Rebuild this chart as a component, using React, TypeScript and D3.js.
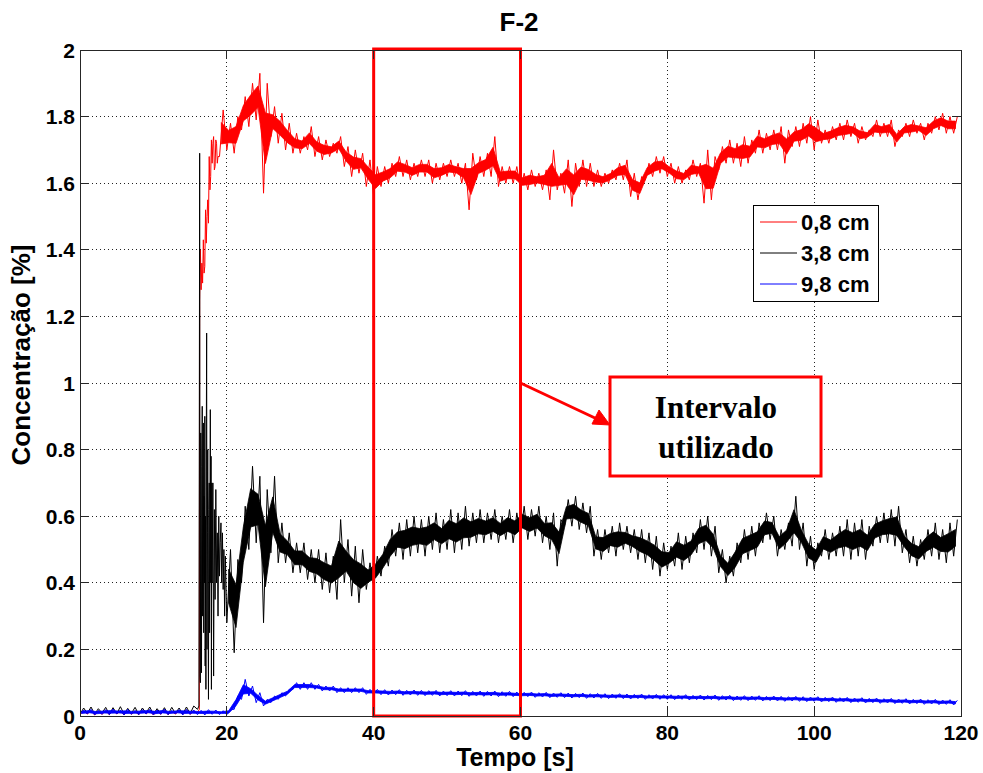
import React from "react";
import * as d3 from "d3";

const TITLE = "F-2";
const X_LABEL = "Tempo [s]";
const Y_LABEL = "Concentração [%]";
const X_TICKS = [0, 20, 40, 60, 80, 100, 120];
const Y_TICKS = [0, 0.2, 0.4, 0.6, 0.8, 1, 1.2, 1.4, 1.6, 1.8, 2];
const SERIES_NAMES = ["0,8 cm", "3,8 cm", "9,8 cm"];
const SERIES_COLORS = ["#ff0000", "#000000", "#0000ff"];
const INTERVAL = [40, 60];
const NOTE_LINES = ["Intervalo", "utilizado"];

// per-second bins: low and high reading of each noisy trace (t = 0..119 s)
const RED_LO = [
  .004, .006, .003, .005, .004, .006, .003, .005, .004, .006, .003, .005, .004, .006, .004, .005,
  .01, 1.28, 1.62, 1.68, 1.70, 1.69, 1.76, 1.77, 1.79, 1.57, 1.74, 1.72, 1.70, 1.69,
  1.69, 1.70, 1.68, 1.67, 1.68, 1.69, 1.65, 1.62, 1.63, 1.59,
  1.56, 1.59, 1.60, 1.62, 1.62, 1.61, 1.62, 1.62, 1.60, 1.61,
  1.62, 1.62, 1.60, 1.52, 1.61, 1.62, 1.62, 1.59, 1.60, 1.60,
  1.58, 1.58, 1.59, 1.58, 1.55, 1.58, 1.57, 1.53, 1.59, 1.59,
  1.59, 1.59, 1.60, 1.61, 1.61, 1.56, 1.55, 1.61, 1.62, 1.63,
  1.62, 1.60, 1.60, 1.61, 1.62, 1.54, 1.55, 1.64, 1.66, 1.66,
  1.65, 1.66, 1.69, 1.69, 1.70, 1.70, 1.66, 1.71, 1.71, 1.72,
  1.70, 1.72, 1.72, 1.73, 1.73, 1.74, 1.72, 1.73, 1.74, 1.74,
  1.74, 1.71, 1.74, 1.74, 1.75, 1.73, 1.75, 1.76, 1.75, 1.75,
];
const RED_HI = [
  .014, .016, .013, .015, .017, .014, .015, .013, .016, .015, .014, .017, .013, .015, .016, .014,
  1.30, 1.52, 1.74, 1.82, 1.78, 1.80, 1.86, 1.90, 1.93, 1.90, 1.83, 1.81, 1.78, 1.75,
  1.74, 1.77, 1.74, 1.73, 1.72, 1.74, 1.71, 1.70, 1.69, 1.67,
  1.65, 1.65, 1.66, 1.68, 1.67, 1.66, 1.67, 1.67, 1.66, 1.66,
  1.67, 1.66, 1.66, 1.69, 1.68, 1.69, 1.74, 1.65, 1.65, 1.65,
  1.63, 1.64, 1.63, 1.64, 1.70, 1.63, 1.67, 1.66, 1.67, 1.66,
  1.64, 1.63, 1.64, 1.66, 1.67, 1.63, 1.62, 1.66, 1.68, 1.68,
  1.66, 1.65, 1.64, 1.67, 1.66, 1.70, 1.68, 1.71, 1.73, 1.72,
  1.74, 1.73, 1.76, 1.75, 1.76, 1.77, 1.76, 1.77, 1.78, 1.80,
  1.79, 1.76, 1.77, 1.78, 1.79, 1.78, 1.77, 1.76, 1.79, 1.78,
  1.79, 1.76, 1.78, 1.79, 1.78, 1.78, 1.80, 1.81, 1.80, 1.80,
];
const RED_TRANS_T = [16.0, 16.25, 16.3, 16.4, 16.5, 16.6, 16.7, 16.8, 16.9, 17.0, 17.1, 17.2, 17.3, 17.4, 17.5, 17.6, 17.7, 17.8, 17.9, 18.0, 18.1, 18.2, 18.3, 18.4, 18.5, 18.6, 18.7, 18.8];
const RED_TRANS_V = [.01, .02, 1.25, 1.40, 1.28, 1.36, 1.30, 1.43, 1.33, 1.35, 1.52, 1.42, 1.50, 1.55, 1.48, 1.68, 1.58, 1.62, 1.73, 1.66, 1.72, 1.74, 1.64, 1.65, 1.73, 1.72, 1.66, 1.68];

const BLACK_LO = [
  .005, .008, .006, .009, .005, .007, .006, .008, .005, .009, .006, .007, .005, .008, .006, .007,
  .02, .06, .10, .35, .28, .19, .40, .50, .52, .28, .49, .46, .46, .43,
  .43, .41, .40, .38, .37, .35, .40, .36, .34, .38,
  .39, .42, .45, .48, .47, .48, .49, .48, .50, .49,
  .50, .49, .50, .51, .52, .52, .53, .52, .53, .52,
  .54, .53, .54, .52, .50, .45, .57, .57, .56, .55,
  .48, .47, .49, .48, .50, .49, .47, .46, .44, .42,
  .44, .45, .44, .46, .49, .50, .48, .43, .40, .42,
  .46, .47, .48, .52, .53, .48, .50, .51, .50, .45,
  .44, .48, .47, .48, .48, .47, .48, .47, .51, .52,
  .52, .51, .49, .46, .45, .47, .48, .47, .46, .48,
];
const BLACK_HI = [
  .024, .027, .022, .026, .025, .028, .023, .026, .024, .027, .022, .025, .026, .024, .027, .03,
  1.69, .95, .92, .60, .50, .47, .63, .75, .72, .68, .72, .58, .55, .52,
  .52, .50, .50, .49, .48, .59, .53, .51, .50, .46,
  .48, .51, .56, .58, .59, .60, .59, .60, .61, .59,
  .62, .61, .63, .61, .62, .61, .62, .60, .62, .61,
  .63, .62, .63, .60, .61, .59, .65, .66, .64, .63,
  .56, .56, .57, .58, .57, .56, .56, .55, .54, .52,
  .51, .55, .54, .55, .59, .60, .57, .50, .48, .52,
  .56, .57, .58, .61, .60, .56, .58, .66, .58, .54,
  .52, .56, .55, .57, .59, .58, .59, .57, .60, .61,
  .62, .63, .56, .54, .53, .56, .58, .56, .58, .59,
];
const BLACK_TRANS_T = [16.0, 16.2, 16.3, 16.35, 16.4, 16.45, 16.5, 16.55, 16.6, 16.65, 16.7, 16.75, 16.8, 16.85, 16.9, 16.95, 17.0, 17.05, 17.1, 17.15, 17.2, 17.25, 17.3, 17.35, 17.4, 17.45, 17.5, 17.55, 17.6, 17.65, 17.7, 17.75, 17.8, 17.85, 17.9, 17.95, 18.0, 18.1, 18.2, 18.3, 18.4, 18.5, 18.6, 18.7, 18.8, 18.9, 19.0, 19.1, 19.2, 19.3, 19.4, 19.5, 19.6, 19.7, 19.8];
const BLACK_TRANS_V = [.02, .03, 1.69, .12, .10, .85, .60, .13, .75, .93, .30, .70, .88, .25, .66, .40, .90, .15, .60, .08, .80, 1.15, .20, .55, .80, .30, .05, .62, .70, .25, .55, .92, .40, .78, .08, .70, .40, .70, .12, .62, .35, .68, .40, .55, .30, .60, .42, .52, .58, .40, .55, .38, .50, .30, .48];

const BLUE_LO = [
  .004, .006, .003, .005, .004, .006, .003, .005, .004, .006, .003, .005, .004, .006, .003, .005,
  .004, .003, .005, .004, .004, .02, .05, .06, .04, .03, .04, .05, .06, .08,
  .08, .08, .08, .075, .075, .07, .07, .07, .07, .065,
  .065, .064, .063, .064, .062, .063, .062, .061, .062, .060,
  .061, .060, .061, .059, .060, .059, .060, .058, .059, .058,
  .057, .058, .056, .057, .055, .056, .055, .054, .055, .053,
  .054, .053, .052, .053, .052, .051, .052, .050, .051, .050,
  .050, .049, .050, .048, .049, .048, .049, .047, .048, .046,
  .047, .046, .047, .045, .046, .045, .044, .045, .044, .043,
  .044, .042, .043, .041, .042, .040, .041, .039, .040, .038,
  .039, .037, .038, .036, .037, .035, .036, .034, .035, .033,
];
const BLUE_HI = [
  .018, .02, .017, .019, .021, .018, .02, .017, .019, .02, .018, .021, .017, .019, .02, .018,
  .017, .019, .018, .016, .02, .06, .11, .09, .07, .05, .06, .07, .08, .10,
  .10, .10, .095, .09, .09, .085, .085, .085, .085, .08,
  .08, .079, .078, .079, .077, .078, .077, .076, .077, .075,
  .076, .075, .076, .074, .075, .074, .075, .073, .074, .072,
  .071, .072, .070, .071, .069, .070, .069, .068, .069, .067,
  .068, .067, .066, .067, .066, .065, .066, .064, .065, .064,
  .064, .063, .064, .062, .063, .062, .063, .061, .062, .060,
  .061, .060, .061, .059, .060, .059, .058, .059, .058, .057,
  .058, .056, .057, .055, .056, .054, .055, .053, .054, .052,
  .053, .051, .052, .050, .051, .049, .050, .048, .049, .047,
];

const W = 983, H = 773;
const M = { left: 80, right: 22, top: 50, bottom: 57 };

type Pt = [number, number];

function buildSeries(lo: number[], hi: number[], tt?: number[], tv?: number[]) {
  const pts: Pt[] = [];
  const t0 = tt ? tt[0] : Infinity;
  const t1 = tt ? tt[tt.length - 1] : -Infinity;
  let insertedTrans = false;
  for (let i = 0; i < lo.length; i++) {
    const a = i, b = i + 0.5;
    if (tt && tv && a >= t0 && b <= t1 + 0.2) {
      if (!insertedTrans) {
        tt.forEach((t, k) => pts.push([t, tv[k]]));
        insertedTrans = true;
      }
      continue;
    }
    pts.push([a, lo[i]]);
    pts.push([b, hi[i]]);
  }
  return pts;
}

// envelope segments (bins outside the transient), as [t, lo, hi]
function buildBand(lo: number[], hi: number[], skipFrom: number, skipTo: number) {
  const segs: [number, number, number][][] = [[]];
  for (let i = 0; i < lo.length; i++) {
    if (i >= skipFrom && i < skipTo) {
      if (segs[segs.length - 1].length) segs.push([]);
      continue;
    }
    segs[segs.length - 1].push([i + 0.25, lo[i], hi[i]]);
  }
  return segs.filter(s => s.length > 1);
}

export default function App() {
  const x = d3.scaleLinear().domain([0, 120]).range([M.left, W - M.right]);
  const y = d3.scaleLinear().domain([0, 2]).range([H - M.bottom, M.top]);
  const line = d3.line<Pt>().x(d => x(d[0])).y(d => y(d[1]));
  const inner = 0.27;
  const area = d3.area<[number, number, number]>()
    .x(d => x(d[0]))
    .y0(d => y(d[1] + (d[2] - d[1]) * inner))
    .y1(d => y(d[2] - (d[2] - d[1]) * inner));

  const series = [
    buildSeries(RED_LO, RED_HI, RED_TRANS_T, RED_TRANS_V),
    buildSeries(BLACK_LO, BLACK_HI, BLACK_TRANS_T, BLACK_TRANS_V),
    buildSeries(BLUE_LO, BLUE_HI),
  ];
  const bands = [
    buildBand(RED_LO, RED_HI, 0, 19),
    buildBand(BLACK_LO, BLACK_HI, 0, 20),
    buildBand(BLUE_LO, BLUE_HI, -1, -1),
  ];

  const x0 = x(0), x1 = x(120), y0 = y(0), y1 = y(2);
  const font = "'Liberation Sans', Arial, Helvetica, sans-serif";
  const tickLen = 9;
  const axisColor = "#262626";

  return (
    <svg width={W} height={H} style={{ position: "absolute", left: 0, top: 0, background: "#fff" }}>
      <rect x={0} y={0} width={W} height={H} fill="#fff" />
      <defs>
        <clipPath id="plot">
          <rect x={x0} y={y1} width={x1 - x0} height={y0 - y1} />
        </clipPath>
      </defs>
      {/* grid */}
      <g stroke="#222" strokeWidth={1} strokeDasharray="1,3" shapeRendering="crispEdges">
        {X_TICKS.slice(1, -1).map(t => (
          <line key={"gx" + t} x1={x(t)} x2={x(t)} y1={y1} y2={y0} />
        ))}
        {Y_TICKS.slice(1, -1).map(t => (
          <line key={"gy" + t} x1={x0} x2={x1} y1={y(t)} y2={y(t)} />
        ))}
      </g>
      {/* data */}
      <g clipPath="url(#plot)">
        {series.map((s, i) => (
          <g key={i}>
            {bands[i].map((b, k) => (
              <path key={k} d={area(b) || ""} fill={SERIES_COLORS[i]} stroke={SERIES_COLORS[i]} strokeWidth={0.8} />
            ))}
            <path d={line(s) || ""} fill="none" stroke={SERIES_COLORS[i]} strokeWidth={1} />
          </g>
        ))}
      </g>
      {/* interval rectangle */}
      <rect x={x(INTERVAL[0])} y={y1 - 1} width={x(INTERVAL[1]) - x(INTERVAL[0])} height={y0 - y1 + 1}
        fill="none" stroke="#ff0000" strokeWidth={3} />
      {/* axes box */}
      <rect x={x0} y={y1} width={x1 - x0} height={y0 - y1} fill="none" stroke={axisColor} strokeWidth={1} shapeRendering="crispEdges" />
      <g stroke={axisColor} strokeWidth={1} shapeRendering="crispEdges">
        {X_TICKS.map(t => (
          <g key={"tx" + t}>
            <line x1={x(t)} x2={x(t)} y1={y0} y2={y0 - tickLen} />
            <line x1={x(t)} x2={x(t)} y1={y1} y2={y1 + tickLen} />
          </g>
        ))}
        {Y_TICKS.map(t => (
          <g key={"ty" + t}>
            <line x1={x0} x2={x0 + tickLen} y1={y(t)} y2={y(t)} />
            <line x1={x1} x2={x1 - tickLen} y1={y(t)} y2={y(t)} />
          </g>
        ))}
      </g>
      {/* tick labels */}
      <g fontFamily={font} fontWeight="bold" fontSize={21} fill="#000">
        {X_TICKS.map(t => (
          <text key={"lx" + t} x={x(t)} y={y0 + 24} textAnchor="middle">{t}</text>
        ))}
        {Y_TICKS.map(t => (
          <text key={"ly" + t} x={x0 - 5} y={y(t) + 7.5} textAnchor="end">{d3.format("~g")(t)}</text>
        ))}
      </g>
      {/* titles */}
      <text x={519} y={31} textAnchor="middle" fontFamily={font} fontWeight="bold" fontSize={26}>{TITLE}</text>
      <text x={515} y={766} textAnchor="middle" fontFamily={font} fontWeight="bold" fontSize={25}>{X_LABEL}</text>
      <text transform={`translate(30,355) rotate(-90)`} textAnchor="middle" fontFamily={font} fontWeight="bold" fontSize={26}>{Y_LABEL}</text>
      {/* legend */}
      <g>
        <rect x={753} y={205} width={125} height={96} fill="#fff" stroke="#000" strokeWidth={1} shapeRendering="crispEdges" />
        {SERIES_NAMES.map((n, i) => (
          <g key={n}>
            <line x1={760} x2={797} y1={222 + i * 31} y2={222 + i * 31} stroke={SERIES_COLORS[i]} strokeWidth={1} />
            <text x={801} y={222 + i * 31 + 7.5} fontFamily={font} fontWeight="bold" fontSize={22}>{n}</text>
          </g>
        ))}
      </g>
      {/* annotation */}
      <g>
        <line x1={x(INTERVAL[1])} y1={y(1)} x2={596} y2={418.5} stroke="#ff0000" strokeWidth={3} />
        <path d="M610,425 L592,424 L599,410 Z" fill="#ff0000" stroke="#ff0000" strokeWidth={1} />
        <rect x={610} y={377} width={211} height={99} fill="#fff" stroke="#ff0000" strokeWidth={3} />
        {NOTE_LINES.map((l, i) => (
          <text key={l} x={716} y={418 + i * 40} textAnchor="middle" fontFamily="'Liberation Serif', 'Times New Roman', serif" fontWeight="bold" fontSize={31}>{l}</text>
        ))}
      </g>
    </svg>
  );
}
